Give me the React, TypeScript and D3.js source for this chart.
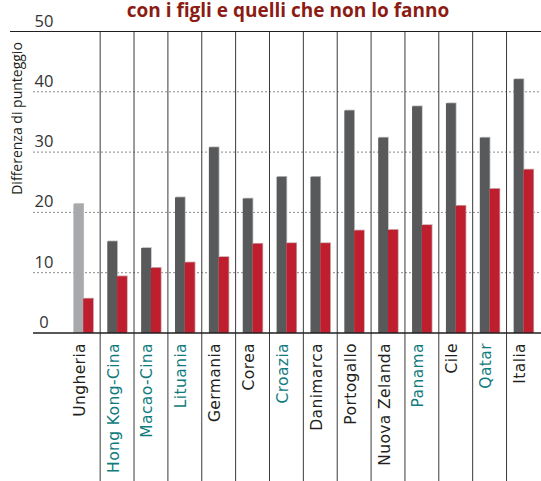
import React from "react";
import * as d3 from "d3";

const categories = [
  "Ungheria", "Hong Kong-Cina", "Macao-Cina", "Lituania", "Germania", "Corea", "Croazia",
  "Danimarca", "Portogallo", "Nuova Zelanda", "Panama", "Cile", "Qatar", "Italia",
];
const highlighted = ["Hong Kong-Cina", "Macao-Cina", "Lituania", "Croazia", "Panama", "Qatar"];
const greyValues = [21.4, 15.2, 14.1, 22.5, 30.8, 22.3, 25.9, 25.9, 36.9, 32.4, 37.6, 38.1, 32.4, 42.1];
const redValues = [5.7, 9.4, 10.8, 11.7, 12.6, 14.8, 14.9, 14.9, 17.0, 17.1, 17.9, 21.1, 23.9, 27.1];
const nonSignificant = ["Ungheria"];
const yTicks = [0, 10, 20, 30, 40, 50];
const title = "con i figli e quelli che non lo fanno";
const yTitle = "Differenza di punteggio";

const W = 541;
const H = 481;
const FONT = "'Open Sans', 'DejaVu Sans', sans-serif";
const LABEL_FONT = "'DejaVu Sans', 'Open Sans', sans-serif";

export default function App() {
  const y = d3.scaleLinear().domain([0, 50]).range([333, 31.5]);
  const x = d3.scaleBand<string>().domain(categories).range([66.3, 540.4]).paddingInner(0).paddingOuter(0);
  const bw = x.bandwidth();
  const barW = bw * 0.29;
  const off = (bw - 2 * barW) / 2;
  const left = 33;

  return (
    <svg width={W} height={H} style={{ position: "absolute", left: 0, top: 0, background: "#fff" }} fontFamily={FONT}>
      <text x={288} y={17} textAnchor="middle" fontSize={19} fontWeight="bold" fill="#8c1c13">{title}</text>
      <text transform={`translate(22,118.5) rotate(-90)`} textAnchor="middle" fontSize={14} fill="#231f20">{yTitle}</text>
      {yTicks.filter(t => t > 0 && t < 50).map(t => (
        <line key={"g" + t} x1={left} x2={W} y1={y(t)} y2={y(t)} stroke="#8a8a8a" strokeWidth={1} strokeDasharray="2,2" />
      ))}
      {yTicks.map(t => (
        <text key={"t" + t} x={44} y={y(t) - 5} textAnchor="middle" fontSize={16.5} fill="#333">{t}</text>
      ))}
      {categories.slice(1).map(c => (
        <line key={"v" + c} x1={x(c)!} x2={x(c)!} y1={y(50)} y2={H} stroke="#3a3a3a" strokeWidth={1} />
      ))}
      {categories.map((c, i) => {
        const x0 = x(c)! + off;
        const gCol = nonSignificant.includes(c) ? "#a7a9ac" : "#58595b";
        return (
          <g key={"b" + c}>
            <rect x={x0 + 0.8} y={y(greyValues[i]) - 0.8} width={barW} height={y(0) - y(greyValues[i])} fill="#bdbdbd" />
            <rect x={x0} y={y(greyValues[i])} width={barW} height={y(0) - y(greyValues[i])} fill={gCol} />
            <rect x={x0 + barW + 0.8} y={y(redValues[i]) - 0.8} width={barW} height={y(0) - y(redValues[i])} fill="#c9a3a8" />
            <rect x={x0 + barW} y={y(redValues[i])} width={barW} height={y(0) - y(redValues[i])} fill="#be1e2d" />
          </g>
        );
      })}
      <line x1={10} x2={W} y1={y(50)} y2={y(50)} stroke="#231f20" strokeWidth={1.2} />
      <line x1={left} x2={W} y1={y(0)} y2={y(0)} stroke="#231f20" strokeWidth={1.5} />
      {categories.map(c => (
        <text
          key={"l" + c}
          transform={`translate(${x(c)! + bw / 2 + 1.5},343) rotate(-90)`}
          textAnchor="end"
          fontSize={15.5}
          fontFamily={LABEL_FONT}
          letterSpacing={0.4}
          fill={highlighted.includes(c) ? "#0f7b7d" : "#231f20"}
        >
          {c}
        </text>
      ))}
    </svg>
  );
}
